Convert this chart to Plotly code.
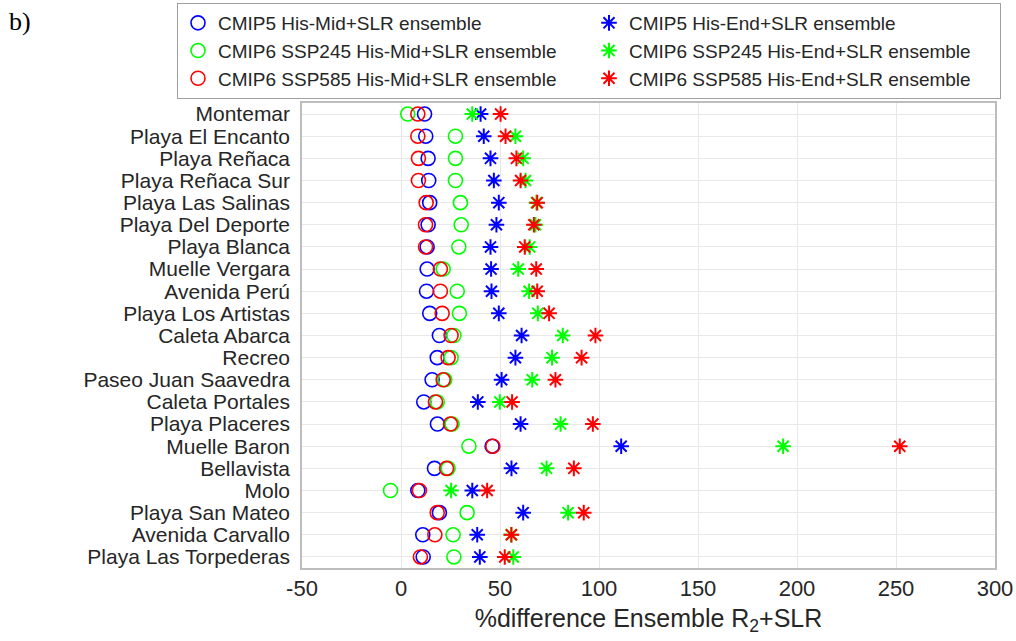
import plotly.graph_objects as go

sites = ["Montemar", "Playa El Encanto", "Playa Reñaca", "Playa Reñaca Sur", "Playa Las Salinas",
         "Playa Del Deporte", "Playa Blanca", "Muelle Vergara", "Avenida Perú", "Playa Los Artistas",
         "Caleta Abarca", "Recreo", "Paseo Juan Saavedra", "Caleta Portales", "Playa Placeres",
         "Muelle Baron", "Bellavista", "Molo", "Playa San Mateo", "Avenida Carvallo",
         "Playa Las Torpederas"]

cmip5_mid = [11.9, 12.5, 13.7, 14.0, 14.5, 13.7, 13.2, 13.2, 12.9, 14.5, 19.4, 18.3, 15.7, 11.5, 18.4,
             46.0, 16.9, 8.5, 19.4, 11.0, 11.2]
ssp245_mid = [3.4, 27.5, 27.5, 27.5, 30.0, 30.4, 29.2, 21.3, 28.4, 29.5, 26.7, 25.3, 22.1, 18.3, 25.8,
              34.3, 23.8, -5.3, 33.4, 26.3, 26.7]
ssp585_mid = [8.5, 8.5, 8.8, 8.8, 12.7, 12.4, 12.4, 19.9, 19.9, 20.8, 25.3, 23.8, 21.3, 17.4, 25.0,
              46.4, 23.0, 9.3, 18.3, 17.1, 9.8]
cmip5_end = [40.2, 41.8, 45.2, 46.9, 49.4, 48.2, 45.2, 45.5, 45.7, 49.4, 60.9, 57.8, 50.8, 38.8, 60.4,
             111.2, 55.8, 36.0, 61.7, 38.5, 39.8]
ssp245_end = [36.0, 57.8, 61.7, 62.9, 68.4, 67.9, 65.0, 59.2, 64.7, 69.1, 81.7, 76.3, 66.3, 49.9, 80.6,
              193.0, 73.5, 25.3, 84.4, 55.6, 56.7]
ssp585_end = [50.3, 52.8, 58.3, 60.4, 68.8, 67.1, 62.5, 68.3, 68.8, 74.8, 98.2, 91.2, 78.0, 56.1, 96.9,
              251.9, 87.3, 43.5, 92.3, 55.8, 52.4]

x_ticks = [-50, 0, 50, 100, 150, 200, 250, 300]

series = [
    ("CMIP5 His-Mid+SLR ensemble", cmip5_mid, "#0000FF", "circle-open", 1),
    ("CMIP6 SSP245 His-Mid+SLR ensemble", ssp245_mid, "#00FF00", "circle-open", 3),
    ("CMIP6 SSP585 His-Mid+SLR ensemble", ssp585_mid, "#FF0000", "circle-open", 5),
    ("CMIP5 His-End+SLR ensemble", cmip5_end, "#0000FF", "asterisk-open", 2),
    ("CMIP6 SSP245 His-End+SLR ensemble", ssp245_end, "#00FF00", "asterisk-open", 4),
    ("CMIP6 SSP585 His-End+SLR ensemble", ssp585_end, "#FF0000", "asterisk-open", 6),
]

fig = go.Figure()
for name, vals, col, sym, rank in series:
    fig.add_trace(go.Scatter(
        x=vals, y=sites, mode="markers", name=name, legendrank=rank,
        marker=dict(symbol=sym, size=14 if sym == "circle-open" else 13, color=col,
                    line=dict(color=col, width=1.6 if sym == "circle-open" else 2)),
    ))

PL, PR, PT, PB = 302, 21, 103, 73
PW = 1016 - PL - PR
PH = 641 - PT - PB

fig.update_layout(
    width=1016, height=641,
    paper_bgcolor="white", plot_bgcolor="white",
    margin=dict(l=PL, r=PR, t=PT, b=PB, autoexpand=False),
    font=dict(family="Liberation Sans, Arial, sans-serif", size=18, color="#262626"),
    showlegend=True,
    legend=dict(
        orientation="h",
        x=(177 - PL) / PW, xanchor="left",
        y=1 + (PT - 3) / PH, yanchor="top",
        entrywidth=366, entrywidthmode="pixels",
        bordercolor="#a0a0a0", borderwidth=1, bgcolor="white",
        font=dict(size=19, color="#262626"),
        traceorder="normal",
    ),
    xaxis=dict(
        range=[-50, 300], tickmode="array", tickvals=x_ticks, ticktext=[str(v) for v in x_ticks],
        showgrid=True, gridcolor="#e8e8e8", gridwidth=1, zeroline=False,
        showline=True, mirror=True, linecolor="#bdbdbd", linewidth=1.5,
        ticks="", tickfont=dict(size=22, color="#262626"),
        title=dict(text="%difference Ensemble R<sub>2</sub>+SLR", font=dict(size=25, color="#262626"),
                   standoff=9),
        automargin=False,
    ),
    yaxis=dict(
        type="category", categoryorder="array", categoryarray=sites,
        tickmode="array", tickvals=sites, ticktext=sites,
        range=[20.5, -0.5],
        showgrid=True, gridcolor="#e8e8e8", gridwidth=1, zeroline=False,
        showline=True, mirror=True, linecolor="#bdbdbd", linewidth=1.5,
        ticks="", ticklabelstandoff=6, tickfont=dict(size=21, color="#262626"),
        automargin=False,
    ),
)

fig.add_annotation(text="b)", xref="paper", yref="paper",
                   x=(7 - PL) / PW, y=1 + (PT - 5) / PH,
                   xanchor="left", yanchor="top", showarrow=False,
                   font=dict(family="Liberation Serif, Times New Roman, serif", size=26, color="black"))

fig.write_html("out.html")
